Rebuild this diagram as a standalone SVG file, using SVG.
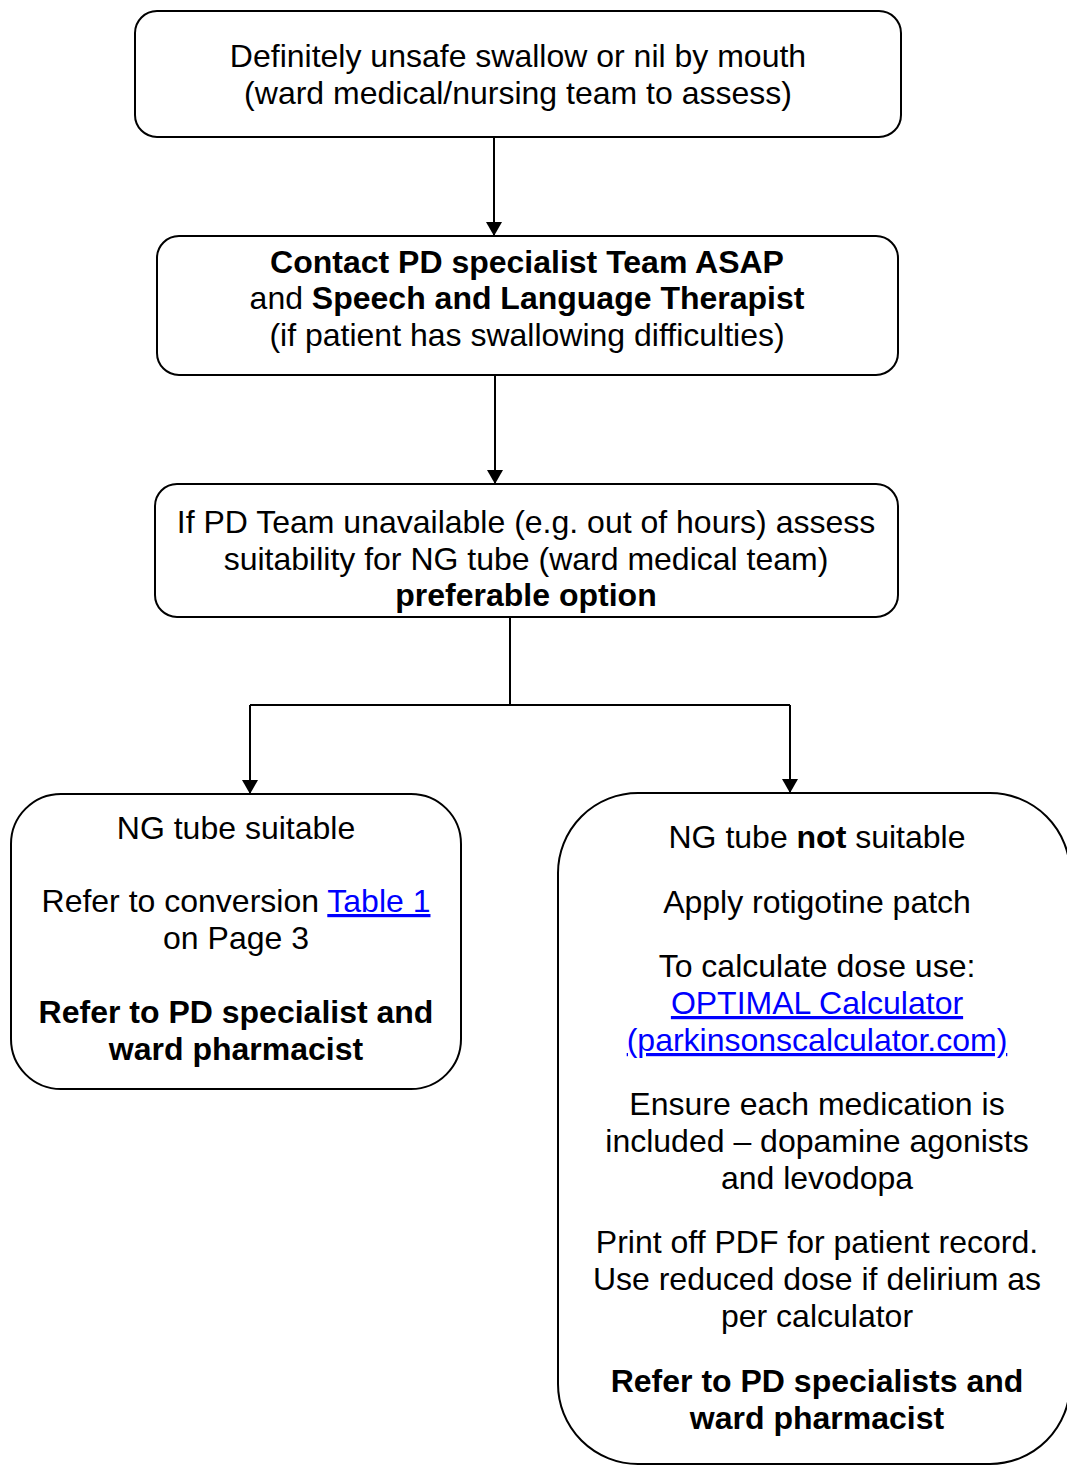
<svg xmlns="http://www.w3.org/2000/svg" width="1067" height="1465" viewBox="0 0 1067 1465">
<defs>
<style>
.box{fill:#fff;stroke:#000;stroke-width:2}
.t{font-family:"Liberation Sans",Arial,sans-serif;font-size:32px;fill:#000;text-anchor:middle}
.b{font-weight:bold}
.lk{fill:#0000ff;text-decoration:underline}
.c{stroke:#000;stroke-width:2;fill:none}
</style>
<marker id="arr" markerWidth="14" markerHeight="16" refX="14" refY="8" orient="auto" markerUnits="userSpaceOnUse" viewBox="0 0 14 16">
<path d="M0,0 L14,8 L0,16 Z" fill="#000"/>
</marker>
</defs>
<rect width="1067" height="1465" fill="#fff"/>
<g id="connectors">
<path class="c" d="M494,137 V236" marker-end="url(#arr)"/>
<path class="c" d="M495,375 V484" marker-end="url(#arr)"/>
<path class="c" d="M510,617 V705"/>
<path class="c" d="M250,705 H790"/>
<path class="c" d="M250,705 V794" marker-end="url(#arr)"/>
<path class="c" d="M790,705 V793" marker-end="url(#arr)"/>
</g>
<g id="n1">
<rect class="box" x="135" y="11" width="766" height="126" rx="22"/>
<text class="t" x="518" y="67">Definitely unsafe swallow or nil by mouth</text>
<text class="t" x="518" y="104">(ward medical/nursing team to assess)</text>
</g>
<g id="n2">
<rect class="box" x="157" y="236" width="741" height="139" rx="22"/>
<text class="t b" x="527" y="273">Contact PD specialist Team ASAP</text>
<text class="t" x="527" y="309">and <tspan class="b">Speech and Language Therapist</tspan></text>
<text class="t" x="527" y="346">(if patient has swallowing difficulties)</text>
</g>
<g id="n3">
<rect class="box" x="155" y="484" width="743" height="133" rx="22"/>
<text class="t" x="526" y="533">If PD Team unavailable (e.g. out of hours) assess</text>
<text class="t" x="526" y="570">suitability for NG tube (ward medical team)</text>
<text class="t b" x="526" y="606">preferable option</text>
</g>
<g id="n4">
<rect class="box" x="11" y="794" width="450" height="295" rx="50"/>
<text class="t" x="236" y="839">NG tube suitable</text>
<text class="t" x="236" y="912">Refer to conversion <tspan class="lk">Table 1</tspan></text>
<text class="t" x="236" y="949">on Page 3</text>
<text class="t b" x="236" y="1023">Refer to PD specialist and</text>
<text class="t b" x="236" y="1060">ward pharmacist</text>
</g>
<g id="n5">
<rect class="box" x="558" y="793" width="512" height="671" rx="80"/>
<text class="t" x="817" y="848">NG tube <tspan class="b">not</tspan> suitable</text>
<text class="t" x="817" y="913">Apply rotigotine patch</text>
<text class="t" x="817" y="977">To calculate dose use:</text>
<text class="t lk" x="817" y="1014">OPTIMAL Calculator</text>
<text class="t lk" x="817" y="1051">(parkinsonscalculator.com)</text>
<text class="t" x="817" y="1115">Ensure each medication is</text>
<text class="t" x="817" y="1152">included – dopamine agonists</text>
<text class="t" x="817" y="1189">and levodopa</text>
<text class="t" x="817" y="1253">Print off PDF for patient record.</text>
<text class="t" x="817" y="1290">Use reduced dose if delirium as</text>
<text class="t" x="817" y="1327">per calculator</text>
<text class="t b" x="817" y="1392">Refer to PD specialists and</text>
<text class="t b" x="817" y="1429">ward pharmacist</text>
</g>
</svg>
